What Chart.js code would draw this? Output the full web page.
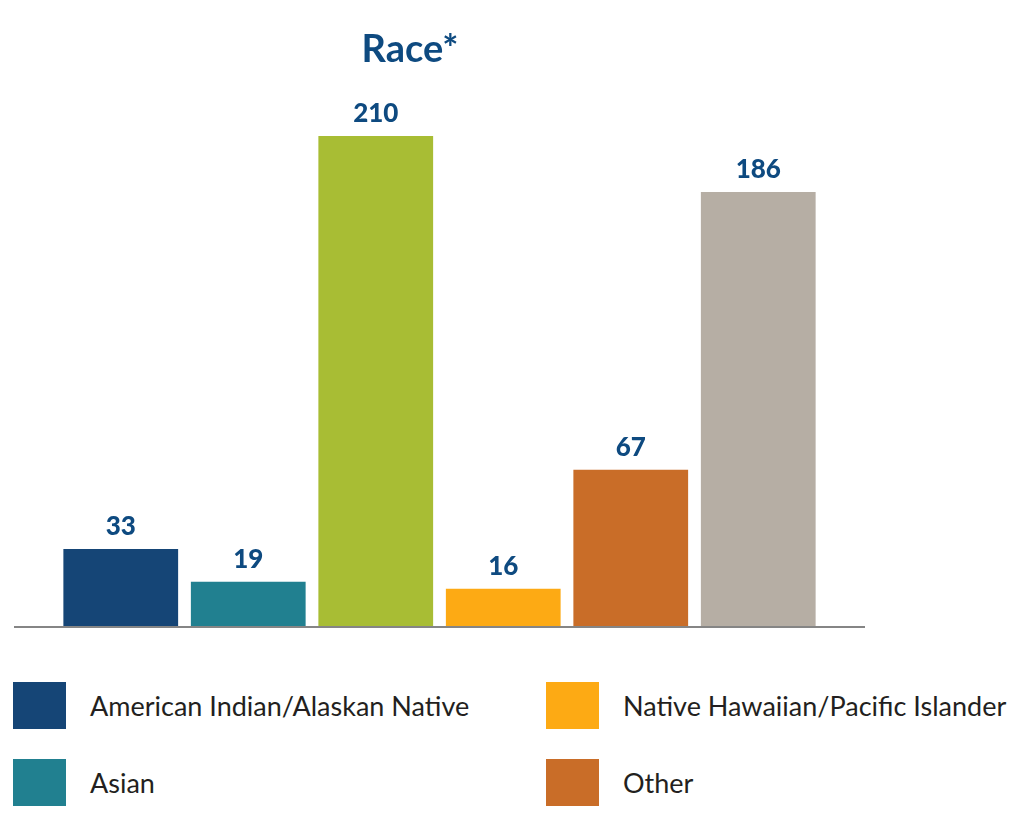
<!DOCTYPE html>
<html>
<head>
<meta charset="utf-8">
<title>Race*</title>
<script src="https://cdn.jsdelivr.net/npm/chart.js@4"></script>
<style>
  body { margin: 0; background: #fff; font-family: Lato, sans-serif; }
  #wrap { position: relative; width: 1009px; height: 823px; }
  #title {
    position: absolute; left: 310px; top: 28px; width: 200px;
    text-align: center; font: bold 38px Lato, sans-serif; color: #0e4a80; line-height: 1;
  }
  #myChart { position: absolute; left: 0; top: 0; }
  .key { position: absolute; height: 47px; display: flex; align-items: center; }
  .key span.box { width: 53px; height: 47px; display: inline-block; }
  .key span.txt { margin-left: 24px; font-size: 27px; color: #231f20; white-space: nowrap; }
</style>
</head>
<body>
<div id="wrap">
  <canvas id="myChart" width="1009" height="640"></canvas>
  <div id="title">Race*</div>
  <div id="legend"></div>
</div>
<script>
  const labels = [
    'American Indian/Alaskan Native',
    'Asian',
    'Black/African American',
    'Native Hawaiian/Pacific Islander',
    'Other',
    'White',
  ];
  const counts = [33, 19, 210, 16, 67, 186];
  const colors = ['#154576', '#218090', '#a8bd34', '#fdaa14', '#c96d28', '#b6aea4'];

  // legend shows these four, in two columns
  const legendItems = [0, 1, 3, 4];

  // numbers over each bar
  const barValues = {
    id: 'barValues',
    afterDatasetsDraw(chart) {
      const ctx = chart.ctx;
      const meta = chart.getDatasetMeta(0);
      ctx.save();
      ctx.font = '900 26px Lato, sans-serif';
      ctx.fillStyle = '#0e4a80';
      ctx.textAlign = 'center';
      ctx.textBaseline = 'alphabetic';
      meta.data.forEach((bar, i) => {
        ctx.fillText(chart.data.datasets[0].data[i], bar.x, bar.y - 14);
      });
      ctx.restore();
    }
  };

  // grey base line, a bit wider than the bars
  const baseLine = {
    id: 'baseLine',
    afterDatasetsDraw(chart) {
      const ctx = chart.ctx;
      const a = chart.chartArea;
      ctx.save();
      ctx.strokeStyle = '#858585';
      ctx.lineWidth = 2;
      ctx.beginPath();
      ctx.moveTo(a.left - 43, a.bottom + 1);
      ctx.lineTo(a.right + 43, a.bottom + 1);
      ctx.stroke();
      ctx.restore();
    }
  };

  const data = {
    labels: labels,
    datasets: [{
      label: 'Race',
      data: counts,
      backgroundColor: colors,
      borderWidth: 0,
      barPercentage: 0.9,
      categoryPercentage: 1.0,
    }]
  };

  const config = {
    type: 'bar',
    data: data,
    options: {
      responsive: false,
      animation: false,
      layout: { padding: { left: 57, right: 187, top: 66, bottom: 14 } },
      plugins: {
        legend: { display: false },
        tooltip: { enabled: false },
      },
      scales: {
        x: { display: false },
        y: { display: false, min: 0, max: 240 },
      },
    },
    plugins: [barValues, baseLine],
  };
  const myChart = new Chart(document.getElementById('myChart'), config);

  const legend = document.getElementById('legend');
  legendItems.forEach((idx, n) => {
    const col = Math.floor(n / 2), row = n % 2;
    const el = document.createElement('div');
    el.className = 'key';
    el.style.left = (13 + col * 533) + 'px';
    el.style.top = (682 + row * 77) + 'px';
    el.innerHTML = '<span class="box" style="background:' + colors[idx] + '"></span>' +
      '<span class="txt">' + labels[idx] + '</span>';
    legend.appendChild(el);
  });
</script>
</body>
</html>
